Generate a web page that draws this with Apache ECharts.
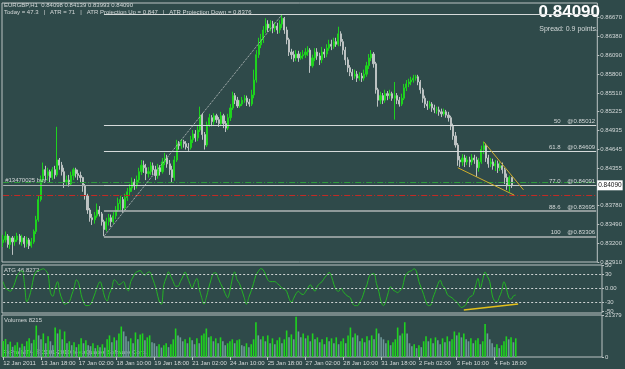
<!DOCTYPE html>
<html><head><meta charset="utf-8">
<script src="https://cdn.jsdelivr.net/npm/echarts@6/dist/echarts.min.js"></script>
<style>html,body{margin:0;padding:0;background:#2f4a4a;overflow:hidden}#c{width:625px;height:369px}</style>
</head><body><div id="c"></div>
<script>
// ---- time axis tick labels (one every 16 two-hour bars) ----
const tickLabels = ["12 Jan 2011","13 Jan 18:00","17 Jan 02:00","18 Jan 10:00","19 Jan 18:00","21 Jan 02:00","24 Jan 10:00","25 Jan 18:00","27 Jan 02:00","28 Jan 10:00","31 Jan 18:00","2 Feb 02:00","3 Feb 10:00","4 Feb 18:00"];
const barsPerTick = 16;
const totalSlots = 254;

// ---- EURGBP bars ----
const openP = [
.8321,.8325,.8331,.8318,.8328,.8322,.8325,.8331,.8322,.8328,
.8319,.8325,.8316,.8322,.8338,.8356,.8387,.8417,.8433,.8424,
.8430,.8421,.8433,.8425,.8448,.8440,.8430,.8414,.8417,.8411,
.8424,.8433,.8427,.8424,.8421,.8408,.8393,.8371,.8359,.8356,
.8362,.8371,.8365,.8353,.8341,.8353,.8359,.8353,.8362,.8371,
.8381,.8387,.8374,.8390,.8399,.8405,.8414,.8408,.8417,.8430,
.8440,.8436,.8427,.8430,.8439,.8433,.8424,.8436,.8430,.8445,
.8451,.8442,.8433,.8421,.8448,.8473,.8470,.8476,.8473,.8468,
.8467,.8479,.8488,.8482,.8494,.8517,.8487,.8471,.8502,.8513,
.8507,.8516,.8510,.8504,.8516,.8504,.8497,.8513,.8528,.8547,
.8540,.8531,.8534,.8540,.8543,.8537,.8534,.8548,.8571,.8610,
.8625,.8633,.8648,.8657,.8651,.8657,.8651,.8654,.8648,.8657,
.8666,.8648,.8633,.8614,.8610,.8605,.8611,.8605,.8608,.8610,
.8614,.8617,.8593,.8605,.8614,.8608,.8602,.8614,.8611,.8620,
.8626,.8623,.8630,.8626,.8642,.8630,.8617,.8602,.8590,.8583,
.8577,.8580,.8574,.8577,.8574,.8580,.8593,.8605,.8611,.8596,
.8556,.8540,.8547,.8540,.8550,.8547,.8550,.8543,.8547,.8540,
.8534,.8543,.8559,.8565,.8568,.8571,.8574,.8576,.8568,.8556,
.8543,.8534,.8531,.8534,.8528,.8525,.8525,.8522,.8519,.8522,
.8517,.8513,.8500,.8485,.8471,.8448,.8445,.8451,.8445,.8448,
.8445,.8451,.8448,.8436,.8445,.8464,.8470,.8451,.8442,.8445,
.8439,.8442,.8436,.8439,.8433,.8421,.8408,.8421];
const closeP = [
.8325,.8331,.8318,.8328,.8322,.8325,.8331,.8322,.8328,.8319,
.8325,.8316,.8322,.8338,.8356,.8387,.8417,.8433,.8424,.8430,
.8421,.8433,.8425,.8448,.8440,.8430,.8414,.8417,.8411,.8424,
.8433,.8427,.8424,.8421,.8408,.8393,.8371,.8359,.8356,.8362,
.8371,.8365,.8353,.8341,.8353,.8359,.8353,.8362,.8371,.8381,
.8387,.8374,.8390,.8399,.8405,.8414,.8408,.8417,.8430,.8440,
.8436,.8427,.8430,.8439,.8433,.8424,.8436,.8430,.8445,.8451,
.8442,.8433,.8421,.8448,.8473,.8470,.8476,.8473,.8468,.8467,
.8479,.8488,.8482,.8494,.8517,.8487,.8471,.8502,.8513,.8507,
.8516,.8510,.8504,.8516,.8504,.8497,.8513,.8528,.8547,.8540,
.8531,.8534,.8540,.8543,.8537,.8534,.8548,.8571,.8610,.8625,
.8633,.8648,.8657,.8651,.8657,.8651,.8654,.8648,.8657,.8666,
.8648,.8633,.8614,.8610,.8605,.8611,.8605,.8608,.8610,.8614,
.8617,.8593,.8605,.8614,.8608,.8602,.8614,.8611,.8620,.8626,
.8623,.8630,.8626,.8642,.8630,.8617,.8602,.8590,.8583,.8577,
.8580,.8574,.8577,.8574,.8580,.8593,.8605,.8611,.8596,.8556,
.8540,.8547,.8540,.8550,.8547,.8550,.8543,.8547,.8540,.8534,
.8543,.8559,.8565,.8568,.8571,.8574,.8576,.8568,.8556,.8543,
.8534,.8531,.8534,.8528,.8525,.8525,.8522,.8519,.8522,.8517,
.8513,.8500,.8485,.8471,.8448,.8445,.8451,.8445,.8448,.8445,
.8451,.8448,.8436,.8445,.8464,.8470,.8451,.8442,.8445,.8439,
.8442,.8436,.8439,.8433,.8421,.8408,.8421,.8409];
const highP = [
.8333,.8338,.8334,.8331,.8331,.8331,.8336,.8334,.8333,.8331,
.8330,.8328,.8328,.8341,.8362,.8393,.8424,.8444,.8439,.8436,
.8433,.8437,.8439,.8499,.8451,.8445,.8436,.8424,.8425,.8430,
.8436,.8436,.8433,.8430,.8422,.8411,.8396,.8374,.8365,.8368,
.8381,.8377,.8368,.8356,.8359,.8365,.8364,.8368,.8377,.8390,
.8393,.8391,.8396,.8405,.8411,.8421,.8419,.8424,.8436,.8448,
.8447,.8442,.8437,.8445,.8444,.8439,.8442,.8440,.8451,.8459,
.8456,.8448,.8439,.8454,.8479,.8477,.8480,.8479,.8477,.8474,
.8485,.8494,.8494,.8500,.8530,.8520,.8491,.8507,.8519,.8517,
.8520,.8519,.8514,.8522,.8519,.8508,.8519,.8534,.8553,.8551,
.8545,.8540,.8545,.8548,.8547,.8542,.8556,.8587,.8617,.8636,
.8642,.8654,.8666,.8663,.8663,.8662,.8660,.8659,.8663,.8672,
.8668,.8653,.8636,.8619,.8616,.8617,.8616,.8614,.8617,.8620,
.8623,.8620,.8610,.8620,.8620,.8613,.8622,.8619,.8626,.8633,
.8633,.8636,.8636,.8653,.8646,.8634,.8622,.8606,.8594,.8588,
.8587,.8585,.8583,.8582,.8587,.8599,.8611,.8617,.8614,.8599,
.8559,.8553,.8551,.8556,.8554,.8556,.8553,.8568,.8551,.8545,
.8550,.8565,.8571,.8573,.8576,.8579,.8579,.8579,.8571,.8559,
.8547,.8539,.8539,.8537,.8533,.8530,.8530,.8527,.8527,.8525,
.8522,.8516,.8504,.8491,.8474,.8454,.8457,.8456,.8454,.8453,
.8457,.8456,.8453,.8451,.8470,.8476,.8473,.8456,.8451,.8450,
.8448,.8447,.8445,.8444,.8436,.8427,.8424,.8422];
const lowP = [
.8314,.8321,.8313,.8311,.8302,.8316,.8322,.8318,.8316,.8313,
.8314,.8311,.8313,.8319,.8334,.8353,.8384,.8413,.8417,.8416,
.8414,.8417,.8419,.8422,.8433,.8424,.8405,.8408,.8407,.8408,
.8417,.8421,.8417,.8414,.8399,.8387,.8365,.8353,.8348,.8350,
.8359,.8361,.8347,.8331,.8338,.8347,.8345,.8350,.8357,.8368,
.8371,.8367,.8371,.8385,.8393,.8399,.8402,.8404,.8413,.8425,
.8428,.8417,.8421,.8425,.8425,.8417,.8419,.8424,.8427,.8440,
.8436,.8425,.8414,.8416,.8445,.8464,.8465,.8467,.8464,.8462,
.8464,.8474,.8476,.8477,.8491,.8479,.8464,.8468,.8499,.8500,
.8502,.8505,.8499,.8500,.8497,.8491,.8494,.8508,.8525,.8534,
.8528,.8528,.8531,.8536,.8531,.8530,.8531,.8543,.8567,.8605,
.8620,.8628,.8643,.8645,.8646,.8643,.8645,.8642,.8643,.8651,
.8642,.8626,.8608,.8603,.8599,.8600,.8599,.8602,.8603,.8605,
.8608,.8582,.8590,.8600,.8602,.8594,.8597,.8605,.8606,.8616,
.8617,.8619,.8622,.8623,.8623,.8610,.8594,.8583,.8577,.8571,
.8573,.8568,.8570,.8568,.8570,.8576,.8588,.8600,.8590,.8550,
.8530,.8534,.8534,.8536,.8540,.8542,.8539,.8510,.8534,.8530,
.8531,.8540,.8554,.8560,.8563,.8567,.8570,.8563,.8550,.8536,
.8528,.8525,.8527,.8522,.8520,.8519,.8516,.8514,.8516,.8513,
.8507,.8494,.8479,.8467,.8439,.8437,.8439,.8437,.8440,.8437,
.8440,.8442,.8422,.8430,.8442,.8457,.8445,.8436,.8437,.8433,
.8431,.8428,.8431,.8427,.8411,.8402,.8399,.8405];

// ---- ATG oscillator ----
const atg = [
14,0,-4,-7,0,12,28,34,38,10,
-30,-20,0,25,36,38,40,42,38,30,
-10,-18,0,14,-10,-25,-35,-33,-30,-15,
0,18,10,-14,-30,-38,-38,-35,-24,-10,
5,14,0,-20,-28,-12,0,18,14,7,
10,14,0,-6,14,24,33,36,38,32,
28,33,35,24,10,-7,-28,-35,7,22,
35,25,14,4,4,14,24,35,24,10,
0,12,21,-2,-20,-35,-20,0,18,32,
33,22,10,0,-12,-21,-5,20,35,18,
10,-4,-20,-35,-20,-6,10,28,36,42,
40,30,18,14,14,14,10,6,0,-2,
-7,-22,-31,-22,-12,-7,-12,-14,-8,0,
7,0,-7,4,10,14,22,28,34,25,
8,-4,-7,0,-8,-14,-18,-21,-34,-38,
-38,-30,-21,-5,7,26,30,31,10,-7,
-30,-38,-28,-10,3,-4,-7,-10,-5,0,
24,32,36,38,42,35,14,0,-14,-30,
-38,-37,-20,-7,8,17,5,0,-14,-18,
-21,-26,-30,-37,-42,-40,-35,-22,-18,-14,
5,21,0,18,35,25,14,-15,-28,-30,
-20,-7,14,0,-20,-24,-17,-15];

// ---- Volumes ----
const volume = [
8200,9200,6500,7800,5200, 6000,7500,4800,6800,5500, 8000,9600,7000,8800, 16000,
11000,9000,12000,7000,10500,8000,6000, 15000,12000,14000,9000,13000,7000,
8000,6000,7500,5000,6500, 9500,7000,8500,6000,5500, 7000,4500,6000,5000,6500,4800,
9000,11000,7500,10000,8500,12000, 15500,13000, 10500,8000,9500,7000,
12500,9000,11500,12000,8500,10000,11000,7500, 7000,5500,6500,4800,6000,7000,5000,6500,9000,
14500,11000, 10000,8000,9000,7000,10000,8500,6500,9500,7000,11000,12000, 14500,10000,
10500,8000,9500,7000,10000,8000,6000,7000,8000, 9000,7000,8500,9000,6000,5500,7000,5000,6500,9000,
17700, 11000,9000,10500,8000,11000,7000,9500,6500,8500,10000,7000,9000,
13500,10000,11500,9000, 20500, 13000,10000,
12000,9500,11000,8000,12000,9000,10000,7500,9000,6500,
10000,8000,9500,7000,10000,6500,8000,9500,7000,11000,
15000,10000,12000, 11000,8000,9500,7500,10500,8500,11000,9000,
14500,12000,10000, 9000,7000,8500,6000,7500,9000, 15000,11000,12000, 17700,12000,
7000,5500,6500,4500,6000,5000,8000,
10500,8000,9500,7000,10000,8500,6500,9500,7500,10500,8000,9000,
13000,11000,12500,10000,12000,9000,8000, 9500,7000,8500,9500,6500,8000,
16800,12000,9000, 7000,5000,6500,4500,6000,8000, 10500,9000,10000,7500,9500];

// ---- levels / annotations (price units, bar indexes) ----
const fibLevels = [0.86718, 0.85012, 0.84609, 0.84091, 0.83695, 0.83306];
const fibNames  = ["", "50", "61.8", "77.0", "88.6", "100"];
const fibStartBar = 43, fibHighBar = 119;
const bidPrice = 0.84090;
const orderPrice = 0.84095;
const greenLevel = 0.84140;
const redLevel = 0.83930;
const wedgeUpper = [[205, 0.8476], [222, 0.8402]];
const wedgeLower = [[194, 0.8436], [218, 0.8394]];
const atgLevels = [30, 0, -30];
const atgTrend = [[195, -47.7], [218, -34.7]];
const priceTicks = [0.8667,0.8638,0.8609,0.8580,0.8551,0.85225,0.84935,0.84645,0.84355,0.8378,0.8349,0.8320,0.8291];
const atgTicks = [50, 30, 0, -30, -50];
const volTicks = [0, 21379];

// ---------------------------------------------------------------
const lastSlot = totalSlots - 1;
const cats = Array.from({length: totalSlots}, (_, i) => String(i));
const ohlc = openP.map((o, i) => [o, closeP[i], lowP[i], highP[i]]);
const volData = volume.map((v, i) => ({
  value: v,
  itemStyle: {color: (i === 0 || v >= volume[i - 1]) ? '#1fd41f' : '#6e9797'}
}));

const FONT = '"Liberation Sans", Arial, sans-serif';
const TXT = '#d4d9d9';
const FRAME = '#bcc3c3';
const labelInt = (idx) => idx % barsPerTick === 0 && idx / barsPerTick < tickLabels.length;

function xAxisFor(gi, show) {
  return {
    type: 'category', gridIndex: gi, data: cats, boundaryGap: true,
    axisLine: {show: false},
    axisTick: {show: show, interval: labelInt, alignWithLabel: true, length: 3, lineStyle: {color: FRAME}},
    axisLabel: {show: show, interval: labelInt, align: 'left', margin: 3, fontSize: 6, color: TXT, fontFamily: FONT,
      formatter: (v) => tickLabels[Number(v) / barsPerTick] || ''},
    splitLine: {show: false}
  };
}
function yAxisFor(gi, min, max, ticks, fmt) {
  return {
    type: 'value', gridIndex: gi, position: 'right', min: min, max: max,
    axisLine: {show: false}, splitLine: {show: false},
    axisTick: {show: true, customValues: ticks, length: 2, lineStyle: {color: FRAME}},
    axisLabel: {customValues: ticks, formatter: fmt, fontSize: 6, color: TXT, fontFamily: FONT, margin: 3}
  };
}
function hLine(from, to, level, lineStyle, label) {
  return [{coord: [from, level], lineStyle: lineStyle, label: label || {show: false}}, {coord: [to, level]}];
}

const fibLines = fibLevels.map((lv, k) => hLine(fibStartBar, lastSlot, lv,
  {color: k >= 4 ? '#b0b6b6' : '#d6dada', width: k >= 4 ? 1.5 : 1, type: 'solid'},
  {show: fibNames[k] !== '', position: 'insideEndTop', distance: 1, formatter: fibNames[k] + '    @' + lv.toFixed(5),
   fontSize: 6, color: TXT, fontFamily: FONT}));

const priceMarks = [
  hLine(0, lastSlot, greenLevel, {color: '#2f9c3c', type: [6, 2, 1, 2], width: 1}),
  hLine(0, lastSlot, redLevel, {color: '#c42a24', type: [6, 2, 1, 2], width: 1}),
  hLine(0, fibStartBar, orderPrice, {color: '#a9b0b0', type: 'solid', width: 1},
    {show: true, position: 'insideStartTop', distance: 2, formatter: '#13470025 buy', fontSize: 6, color: TXT, fontFamily: FONT}),
  ...fibLines,
  hLine(fibStartBar, lastSlot, bidPrice, {color: '#c9cdcd', type: 'solid', width: 1},
    {show: true, position: 'end', distance: 1, formatter: bidPrice.toFixed(5), backgroundColor: '#ffffff',
     color: '#111', fontSize: 6.5, fontFamily: FONT, padding: [2, 1, 1, 1]}),
  [{coord: [fibStartBar, fibLevels[5]], lineStyle: {color: '#c4c9c9', type: 'dotted', width: 1}, label: {show: false}},
   {coord: [fibHighBar, fibLevels[0]]}],
  [{coord: wedgeUpper[0], lineStyle: {color: '#cfae2c', type: 'solid', width: 1}, label: {show: false}}, {coord: wedgeUpper[1]}],
  [{coord: wedgeLower[0], lineStyle: {color: '#cfae2c', type: 'solid', width: 1}, label: {show: false}}, {coord: wedgeLower[1]}]
];

const option = {
  animation: false,
  backgroundColor: '#2f4a4a',
  textStyle: {fontFamily: FONT},
  grid: [
    {left: 2, top: 3, width: 600, height: 259, show: true, borderColor: FRAME, borderWidth: 1, backgroundColor: 'transparent'},
    {left: 2, top: 265, width: 600, height: 48, show: true, borderColor: FRAME, borderWidth: 1, backgroundColor: 'transparent'},
    {left: 2, top: 315, width: 600, height: 42, show: true, borderColor: FRAME, borderWidth: 1, backgroundColor: 'transparent'}
  ],
  xAxis: [xAxisFor(0, false), xAxisFor(1, false), xAxisFor(2, true)],
  yAxis: [
    yAxisFor(0, 0.8291, 0.86895, priceTicks, (v) => v.toFixed(5)),
    yAxisFor(1, -54, 50, atgTicks, (v) => v === 0 ? '0.00' : String(v)),
    yAxisFor(2, 0, 21379, volTicks, (v) => String(v))
  ],
  series: [
    {
      type: 'candlestick', xAxisIndex: 0, yAxisIndex: 0, data: ohlc, barWidth: 1.6,
      itemStyle: {color: '#1ed21e', color0: '#bcc2c2', borderColor: '#1ed21e', borderColor0: '#bcc2c2', borderWidth: 1},
      markLine: {silent: true, symbol: ['none', 'none'], animation: false, data: priceMarks}
    },
    {
      type: 'line', xAxisIndex: 1, yAxisIndex: 1, data: atg, showSymbol: false, symbol: 'none', smooth: 0.35,
      lineStyle: {color: '#24b424', width: 1}, itemStyle: {color: '#24b424'},
      markLine: {silent: true, symbol: ['none', 'none'], animation: false, label: {show: false},
        data: [
          ...atgLevels.map(v => hLine(0, lastSlot, v, {color: '#cfd4d4', type: [2, 2], width: 1})),
          [{coord: atgTrend[0], lineStyle: {color: '#e2bf1c', type: 'solid', width: 1.5}, label: {show: false}}, {coord: atgTrend[1]}]
        ]}
    },
    {
      type: 'bar', xAxisIndex: 2, yAxisIndex: 2, data: volData, barWidth: 1.6
    }
  ],
  graphic: [
    {type: 'text', left: 4, top: 2, style: {text: 'EURGBP,H1  0.84098 0.84139 0.83993 0.84090', fill: TXT, font: '6px ' + FONT}},
    {type: 'text', left: 4, top: 9, style: {text: 'Today = 47.3   |   ATR = 71   |   ATR Projection Up = 0.847   |   ATR Projection Down = 0.8376', fill: TXT, font: '6px ' + FONT}},
    {type: 'text', right: 25, top: 4, style: {text: '0.84090', fill: '#ffffff', font: 'bold 17px ' + FONT}},
    {type: 'text', right: 27, top: 26, style: {text: 'Spread: 0.9 points.', fill: TXT, font: '7px ' + FONT}},
    {type: 'text', left: 4, top: 267, style: {text: 'ATG 46.8272', fill: TXT, font: '6px ' + FONT}},
    {type: 'text', left: 4, top: 317, style: {text: 'Volumes 8215', fill: TXT, font: '6px ' + FONT}},
    {type: 'text', left: 3, top: 349, style: {text: 'FxPro MT4, \u00A9 2001-2010 MetaQuotes Software Corp.', fill: TXT, font: '6px ' + FONT}}
  ]
};

const chart = echarts.init(document.getElementById('c'), null, {renderer: 'canvas'});
chart.setOption(option);
</script>
</body></html>
